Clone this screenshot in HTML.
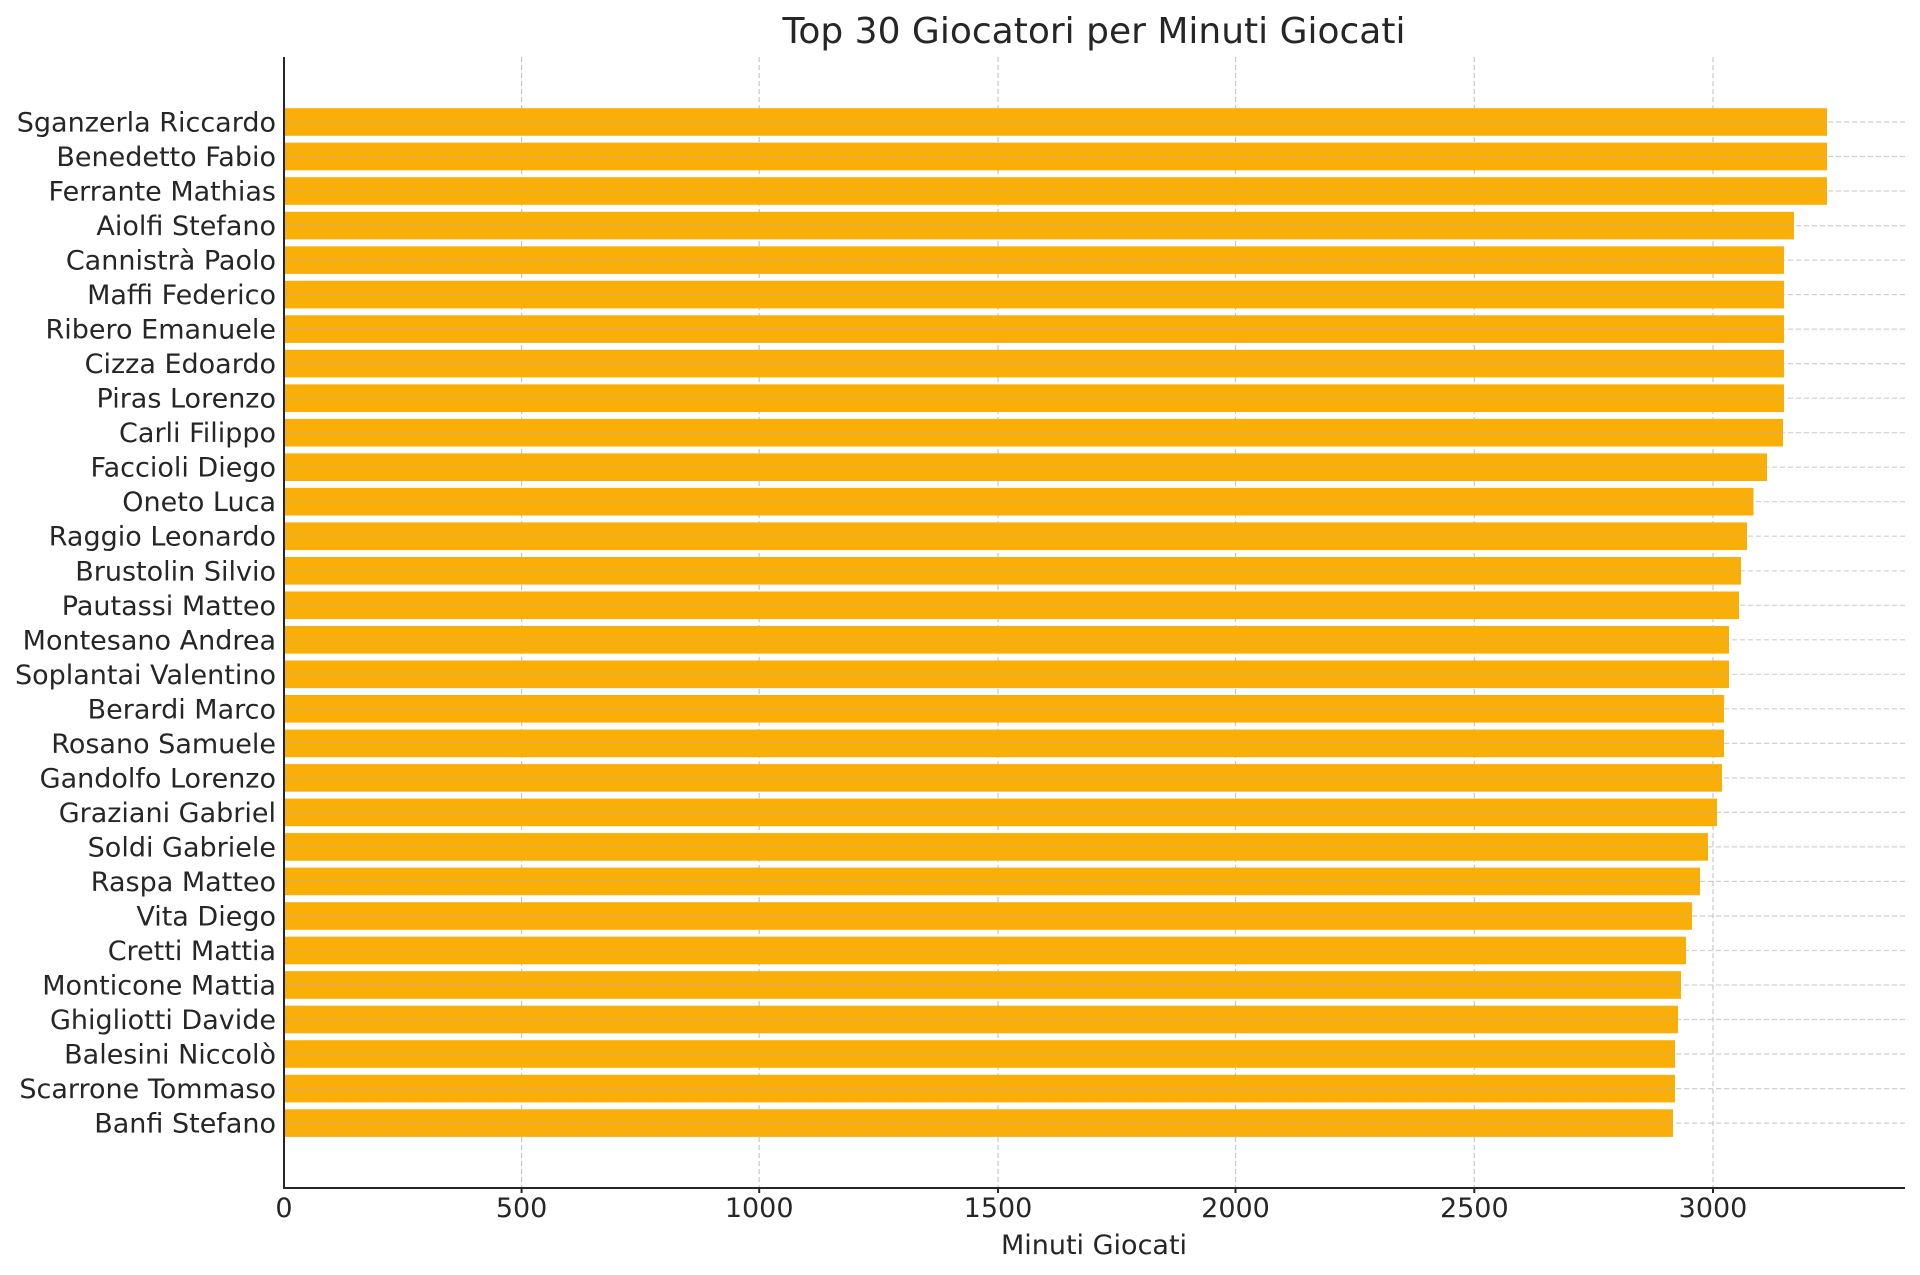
<!DOCTYPE html>
<html><head><meta charset="utf-8"><style>body{margin:0;background:#fff}svg{display:block}</style></head><body>
<svg width="1920" height="1275" xmlns="http://www.w3.org/2000/svg" font-family="DejaVu Sans, Liberation Sans, sans-serif" fill="#262626">
<text x="1094" y="43" font-size="36" text-anchor="middle">Top 30 Giocatori per Minuti Giocati</text>
<g stroke="#c8c8c8" stroke-width="1.2" stroke-dasharray="5,3">
<line x1="521.6" y1="57" x2="521.6" y2="1188"/><line x1="759.2" y1="57" x2="759.2" y2="1188"/><line x1="998" y1="57" x2="998" y2="1188"/><line x1="1235.5" y1="57" x2="1235.5" y2="1188"/><line x1="1474.3" y1="57" x2="1474.3" y2="1188"/><line x1="1713" y1="57" x2="1713" y2="1188"/>
</g>
<g fill="#f9ae08">
<rect x="284" y="108.2" width="1543" height="27.6"/>
<rect x="284" y="142.7" width="1543" height="27.6"/>
<rect x="284" y="177.2" width="1543" height="27.6"/>
<rect x="284" y="211.8" width="1510" height="27.6"/>
<rect x="284" y="246.3" width="1500" height="27.6"/>
<rect x="284" y="280.8" width="1500" height="27.6"/>
<rect x="284" y="315.3" width="1500" height="27.6"/>
<rect x="284" y="349.8" width="1500" height="27.6"/>
<rect x="284" y="384.4" width="1500" height="27.6"/>
<rect x="284" y="418.9" width="1499" height="27.6"/>
<rect x="284" y="453.4" width="1483" height="27.6"/>
<rect x="284" y="487.9" width="1469.5" height="27.6"/>
<rect x="284" y="522.4" width="1463" height="27.6"/>
<rect x="284" y="557" width="1457" height="27.6"/>
<rect x="284" y="591.5" width="1455" height="27.6"/>
<rect x="284" y="626" width="1445" height="27.6"/>
<rect x="284" y="660.5" width="1445" height="27.6"/>
<rect x="284" y="695" width="1440" height="27.6"/>
<rect x="284" y="729.6" width="1440" height="27.6"/>
<rect x="284" y="764.1" width="1438" height="27.6"/>
<rect x="284" y="798.6" width="1433" height="27.6"/>
<rect x="284" y="833.1" width="1424" height="27.6"/>
<rect x="284" y="867.6" width="1416" height="27.6"/>
<rect x="284" y="902.2" width="1408" height="27.6"/>
<rect x="284" y="936.7" width="1402" height="27.6"/>
<rect x="284" y="971.2" width="1397" height="27.6"/>
<rect x="284" y="1005.7" width="1394" height="27.6"/>
<rect x="284" y="1040.2" width="1391" height="27.6"/>
<rect x="284" y="1074.8" width="1391" height="27.6"/>
<rect x="284" y="1109.3" width="1389" height="27.6"/>
</g>
<g stroke="#b0b0b0" stroke-opacity="0.6" stroke-width="1.2" stroke-dasharray="5,3">
<line x1="284" y1="122" x2="1905" y2="122"/><line x1="284" y1="156.5" x2="1905" y2="156.5"/><line x1="284" y1="191" x2="1905" y2="191"/><line x1="284" y1="225.6" x2="1905" y2="225.6"/><line x1="284" y1="260.1" x2="1905" y2="260.1"/><line x1="284" y1="294.6" x2="1905" y2="294.6"/><line x1="284" y1="329.1" x2="1905" y2="329.1"/><line x1="284" y1="363.6" x2="1905" y2="363.6"/><line x1="284" y1="398.2" x2="1905" y2="398.2"/><line x1="284" y1="432.7" x2="1905" y2="432.7"/><line x1="284" y1="467.2" x2="1905" y2="467.2"/><line x1="284" y1="501.7" x2="1905" y2="501.7"/><line x1="284" y1="536.2" x2="1905" y2="536.2"/><line x1="284" y1="570.8" x2="1905" y2="570.8"/><line x1="284" y1="605.3" x2="1905" y2="605.3"/><line x1="284" y1="639.8" x2="1905" y2="639.8"/><line x1="284" y1="674.3" x2="1905" y2="674.3"/><line x1="284" y1="708.8" x2="1905" y2="708.8"/><line x1="284" y1="743.4" x2="1905" y2="743.4"/><line x1="284" y1="777.9" x2="1905" y2="777.9"/><line x1="284" y1="812.4" x2="1905" y2="812.4"/><line x1="284" y1="846.9" x2="1905" y2="846.9"/><line x1="284" y1="881.4" x2="1905" y2="881.4"/><line x1="284" y1="916" x2="1905" y2="916"/><line x1="284" y1="950.5" x2="1905" y2="950.5"/><line x1="284" y1="985" x2="1905" y2="985"/><line x1="284" y1="1019.5" x2="1905" y2="1019.5"/><line x1="284" y1="1054" x2="1905" y2="1054"/><line x1="284" y1="1088.6" x2="1905" y2="1088.6"/><line x1="284" y1="1123.1" x2="1905" y2="1123.1"/>
</g>
<g stroke="#262626" stroke-width="2">
<line x1="284" y1="57" x2="284" y2="1189"/><line x1="283" y1="1188" x2="1905" y2="1188"/>
<line x1="521.6" y1="1188" x2="521.6" y2="1193"/><line x1="759.2" y1="1188" x2="759.2" y2="1193"/><line x1="998" y1="1188" x2="998" y2="1193"/><line x1="1235.5" y1="1188" x2="1235.5" y2="1193"/><line x1="1474.3" y1="1188" x2="1474.3" y2="1193"/><line x1="1713" y1="1188" x2="1713" y2="1193"/>
</g>
<g font-size="27" text-anchor="middle">
<text x="284" y="1217">0</text><text x="521.6" y="1217">500</text><text x="759.2" y="1217">1000</text><text x="998" y="1217">1500</text><text x="1235.5" y="1217">2000</text><text x="1474.3" y="1217">2500</text><text x="1713" y="1217">3000</text>
<text x="1094" y="1254">Minuti Giocati</text>
</g>
<g font-size="27" text-anchor="end">
<text x="276" y="131.5">Sganzerla Riccardo</text>
<text x="276" y="166">Benedetto Fabio</text>
<text x="276" y="200.5">Ferrante Mathias</text>
<text x="276" y="235.1">Aiolfi Stefano</text>
<text x="276" y="269.6">Cannistrà Paolo</text>
<text x="276" y="304.1">Maffi Federico</text>
<text x="276" y="338.6">Ribero Emanuele</text>
<text x="276" y="373.1">Cizza Edoardo</text>
<text x="276" y="407.7">Piras Lorenzo</text>
<text x="276" y="442.2">Carli Filippo</text>
<text x="276" y="476.7">Faccioli Diego</text>
<text x="276" y="511.2">Oneto Luca</text>
<text x="276" y="545.7">Raggio Leonardo</text>
<text x="276" y="580.3">Brustolin Silvio</text>
<text x="276" y="614.8">Pautassi Matteo</text>
<text x="276" y="649.3">Montesano Andrea</text>
<text x="276" y="683.8">Soplantai Valentino</text>
<text x="276" y="718.3">Berardi Marco</text>
<text x="276" y="752.9">Rosano Samuele</text>
<text x="276" y="787.4">Gandolfo Lorenzo</text>
<text x="276" y="821.9">Graziani Gabriel</text>
<text x="276" y="856.4">Soldi Gabriele</text>
<text x="276" y="890.9">Raspa Matteo</text>
<text x="276" y="925.5">Vita Diego</text>
<text x="276" y="960">Cretti Mattia</text>
<text x="276" y="994.5">Monticone Mattia</text>
<text x="276" y="1029">Ghigliotti Davide</text>
<text x="276" y="1063.5">Balesini Niccolò</text>
<text x="276" y="1098.1">Scarrone Tommaso</text>
<text x="276" y="1132.6">Banfi Stefano</text>
</g>
</svg>
</body></html>
